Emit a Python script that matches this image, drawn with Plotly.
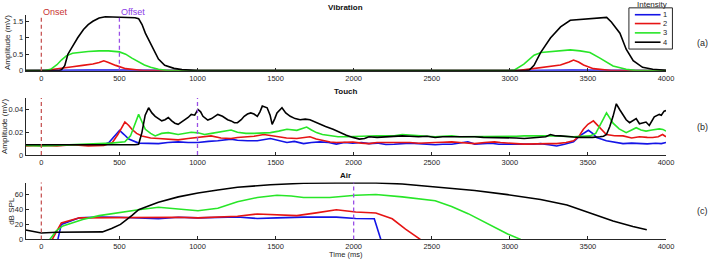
import plotly.graph_objects as go

W, H = 718, 266

# ---------------- data ----------------
intensity_labels = ["1", "2", "3", "4"]
colors = ["#1414e6", "#e61414", "#28e628", "#000000"]
x_ticks = [0, 500, 1000, 1500, 2000, 2500, 3000, 3500, 4000]

onset_ms = 0
offset_ms = [500, 1000, 2000]
panel_titles = ["Vibration", "Touch", "Air"]
panel_tags = ["(a)", "(b)", "(c)"]
y_titles = ["Amplitude (mV)", "Amplitude (mV)", "dB SPL"]

# (a) Vibration
vib_blue_t = [-100, 40, 100, 300, 500, 650, 1000, 3050, 3150, 3400, 3650, 4000]
vib_blue_y = [0, 0.01, 0.015, 0.015, 0.015, 0.01, 0, 0, 0.01, 0.015, 0.01, 0.005]

vib_red_t = [-100, 40, 80, 130, 200, 265, 330, 370, 400, 430, 476, 540, 600, 650, 700,
             3050, 3100, 3197, 3324, 3380, 3408, 3440, 3472, 3535, 3600, 3650, 4000]
vib_red_y = [0, 0, 0.04, 0.08, 0.12, 0.16, 0.2, 0.25, 0.3, 0.25, 0.16, 0.06, 0.02, 0.005, 0,
             0, 0.03, 0.1, 0.17, 0.26, 0.32, 0.26, 0.17, 0.06, 0.015, 0, 0]

vib_green_t = [-100, 20, 60, 100, 130, 160, 200, 250, 300, 370, 430, 500, 540, 580, 620, 660,
               700, 750, 800, 1000,
               3000, 3030, 3090, 3155, 3200, 3280, 3387, 3450, 3513, 3577, 3620, 3661, 3745,
               3800, 4000]
vib_green_y = [0, 0, 0.04, 0.18, 0.33, 0.45, 0.53, 0.56, 0.58, 0.6, 0.6, 0.57, 0.5, 0.38,
               0.27, 0.17, 0.1, 0.04, 0.01, 0,
               0, 0.02, 0.2, 0.47, 0.55, 0.58, 0.63, 0.6, 0.55, 0.38, 0.25, 0.14, 0.04,
               0.01, 0]

vib_black_t = [-100, 110, 130, 150, 170, 200, 233, 270, 300, 330, 370, 410, 450, 500, 550,
               600, 623, 645, 666, 690, 718, 750, 790, 850, 900, 960, 1000,
               3100, 3125, 3155, 3197, 3260, 3325, 3387, 3470, 3555, 3620, 3650, 3705,
               3745, 3790, 3850, 3915, 4000]
vib_black_y = [0, 0, 0.03, 0.15, 0.5, 0.75, 1.0, 1.25, 1.4, 1.5, 1.6, 1.64, 1.63, 1.62,
               1.62, 1.61, 1.58, 1.4, 1.14, 0.9, 0.65, 0.35, 0.16, 0.07, 0.03, 0.01, 0,
               0, 0.02, 0.16, 0.55, 0.99, 1.33, 1.53, 1.56, 1.6, 1.62, 1.48, 1.14,
               0.65, 0.3, 0.1, 0.04, 0.01]

# (b) Touch
tch_blue_t = [-100, 0, 100, 200, 300, 400, 433, 470, 501, 530, 560, 623, 700, 750, 810, 876,
              940, 1003, 1070, 1130, 1215, 1256, 1320, 1383, 1467, 1520, 1573, 1620, 1679,
              1730, 1784, 1840, 1889, 1940, 1995, 2050, 2098, 2150, 2206, 2260, 2311, 2360,
              2415, 2470, 2522, 2570, 2628, 2680, 2731, 2775, 2830, 2881, 2930, 2984, 3040,
              3092, 3150, 3197, 3250, 3300, 3350, 3408, 3450, 3503, 3530, 3556, 3618, 3670,
              3725, 3780, 3830, 3880, 3934, 3970, 4000]
tch_blue_y = [0.009, 0.0085, 0.009, 0.009, 0.0085, 0.009, 0.011, 0.017, 0.0217, 0.018,
              0.014, 0.0105, 0.0105, 0.010, 0.011, 0.0116, 0.011, 0.011, 0.012, 0.0125,
              0.014, 0.013, 0.0125, 0.0125, 0.0145, 0.013, 0.011, 0.012, 0.010, 0.011,
              0.0116, 0.011, 0.0096, 0.011, 0.0104, 0.011, 0.010, 0.0105, 0.0093, 0.0095,
              0.010, 0.0105, 0.010, 0.0095, 0.009, 0.0095, 0.0095, 0.0105, 0.0116, 0.0096,
              0.010, 0.0104, 0.0095, 0.0096, 0.010, 0.0096, 0.0095, 0.010, 0.009, 0.008,
              0.0095, 0.0116, 0.017, 0.0217, 0.019, 0.0154, 0.0125, 0.011, 0.010, 0.0105,
              0.0104, 0.0098, 0.0104, 0.010, 0.011]

tch_red_t = [-100, 0, 100, 200, 300, 400, 455, 490, 535, 560, 580, 610, 644, 700, 750, 810,
             876, 940, 1003, 1050, 1087, 1150, 1215, 1256, 1310, 1362, 1425, 1470, 1509,
             1570, 1636, 1680, 1720, 1760, 1805, 1850, 1889, 1940, 1995, 2050, 2098, 2150,
             2206, 2260, 2311, 2360, 2415, 2470, 2522, 2570, 2628, 2680, 2731, 2775, 2839,
             2902, 2940, 2984, 3040, 3092, 3150, 3197, 3250, 3300, 3360, 3408, 3440, 3471,
             3500, 3535, 3577, 3618, 3670, 3725, 3780, 3830, 3880, 3915, 3950, 3978, 4000]
tch_red_y = [0.008, 0.0085, 0.008, 0.009, 0.008, 0.0085, 0.011, 0.018, 0.029, 0.026, 0.0226,
             0.019, 0.0168, 0.015, 0.0145, 0.014, 0.0133, 0.0145, 0.0154, 0.016, 0.0168,
             0.015, 0.0145, 0.0154, 0.016, 0.0165, 0.018, 0.017, 0.016, 0.015, 0.0145,
             0.015, 0.016, 0.014, 0.0125, 0.0115, 0.011, 0.0115, 0.0114, 0.0105, 0.010,
             0.011, 0.011, 0.0115, 0.0116, 0.011, 0.0104, 0.011, 0.011, 0.0112, 0.0116,
             0.011, 0.0104, 0.010, 0.011, 0.0116, 0.011, 0.0104, 0.010, 0.0096, 0.0098,
             0.0104, 0.010, 0.010, 0.011, 0.0125, 0.016, 0.0226, 0.027, 0.030, 0.024, 0.018,
             0.017, 0.0168, 0.015, 0.016, 0.0155, 0.0154, 0.016, 0.018, 0.016]

tch_green_t = [-100, 0, 100, 200, 300, 370, 450, 535, 571, 600, 623, 645, 666, 700, 729, 770,
               813, 876, 920, 960, 1003, 1045, 1090, 1130, 1180, 1215, 1256, 1310, 1362,
               1420, 1467, 1520, 1573, 1636, 1670, 1699, 1730, 1762, 1800, 1847, 1900, 1953,
               2020, 2098, 2150, 2206, 2260, 2311, 2360, 2415, 2470, 2522, 2570, 2628, 2680,
               2731, 2775, 2830, 2881, 2930, 2984, 3040, 3092, 3150, 3197, 3250, 3300, 3350,
               3408, 3460, 3513, 3550, 3577, 3600, 3619, 3640, 3661, 3700, 3745, 3780, 3809,
               3840, 3872, 3910, 3957, 3980, 4000]
tch_green_y = [0.0085, 0.008, 0.0085, 0.009, 0.009, 0.010, 0.0105, 0.0116, 0.0168, 0.028,
               0.0357, 0.029, 0.0226, 0.019, 0.0168, 0.019, 0.0197, 0.018, 0.019, 0.020,
               0.0195, 0.018, 0.019, 0.020, 0.021, 0.022, 0.020, 0.019, 0.019, 0.0195,
               0.0197, 0.021, 0.0226, 0.0217, 0.023, 0.0246, 0.022, 0.0197, 0.018, 0.0168,
               0.016, 0.016, 0.0165, 0.0168, 0.017, 0.0168, 0.017, 0.018, 0.0175, 0.0168,
               0.016, 0.016, 0.0165, 0.0168, 0.016, 0.016, 0.016, 0.0165, 0.016, 0.0165,
               0.016, 0.0165, 0.0168, 0.0165, 0.0168, 0.017, 0.0168, 0.0165, 0.016, 0.0165,
               0.0168, 0.019, 0.0255, 0.032, 0.037, 0.033, 0.028, 0.023, 0.0197, 0.022,
               0.024, 0.022, 0.021, 0.022, 0.023, 0.0225, 0.021]

tch_black_t = [-100, 0, 100, 200, 300, 400, 500, 600, 623, 644, 665, 687, 708, 729, 750, 771,
               792, 813, 835, 855, 876, 898, 919, 940, 960, 982, 1003, 1020, 1035, 1050,
               1066, 1090, 1110, 1130, 1160, 1193, 1215, 1236, 1256, 1280, 1299, 1320, 1341,
               1362, 1383, 1400, 1415, 1446, 1465, 1478, 1495, 1509, 1541, 1565, 1594, 1625,
               1657, 1690, 1720, 1750, 1784, 1820, 1868, 1910, 1953, 1995, 2037, 2070, 2098,
               2150, 2206, 2260, 2311, 2360, 2415, 2470, 2522, 2570, 2628, 2680, 2731, 2775,
               2830, 2881, 2930, 2984, 3040, 3092, 3150, 3197, 3230, 3260, 3290, 3324, 3370,
               3408, 3450, 3492, 3530, 3577, 3600, 3619, 3640, 3661, 3682, 3703, 3724, 3745,
               3767, 3790, 3809, 3830, 3850, 3872, 3893, 3910, 3925, 3957, 3970, 3988, 4000]
tch_black_y = [0.009, 0.009, 0.0085, 0.009, 0.0088, 0.009, 0.0088, 0.009, 0.0095, 0.0197,
               0.035, 0.0415, 0.037, 0.034, 0.032, 0.030, 0.031, 0.033, 0.030, 0.028, 0.027,
               0.029, 0.0307, 0.033, 0.0357, 0.035, 0.040, 0.038, 0.034, 0.032, 0.0307,
               0.032, 0.034, 0.0357, 0.034, 0.031, 0.030, 0.0284, 0.0284, 0.031, 0.034,
               0.036, 0.037, 0.036, 0.034, 0.038, 0.043, 0.0415, 0.035, 0.027, 0.032, 0.037,
               0.0415, 0.037, 0.034, 0.032, 0.031, 0.0315, 0.031, 0.029, 0.027, 0.025,
               0.0226, 0.020, 0.0174, 0.0155, 0.014, 0.0145, 0.016, 0.0155, 0.016, 0.0165,
               0.0168, 0.0165, 0.016, 0.0165, 0.0154, 0.016, 0.016, 0.0165, 0.016, 0.016,
               0.0155, 0.0154, 0.015, 0.0154, 0.015, 0.0145, 0.015, 0.0154, 0.016, 0.018,
               0.017, 0.0168, 0.016, 0.0158, 0.0155, 0.0154, 0.0155, 0.016, 0.0165, 0.018,
               0.025, 0.034, 0.045, 0.040, 0.0357, 0.031, 0.0284, 0.030, 0.032, 0.0275,
               0.028, 0.029, 0.026, 0.030, 0.0336, 0.0357, 0.035, 0.0386, 0.039]

# (c) Air
air_blue_t = [106, 128, 244, 370, 497, 623, 750, 877, 1003, 1256, 1383, 1509, 1679, 1889,
              2013, 2132, 2174]
air_blue_y = [0, 20, 28.8, 30, 29.5, 28.8, 27.5, 29.5, 28.8, 30, 28, 28.8, 29.7, 29.7,
              28, 27.5, 0]

air_red_t = [70, 128, 244, 370, 497, 623, 750, 877, 1003, 1130, 1256, 1383, 1509, 1636,
             1760, 1889, 2013, 2142, 2247, 2332, 2427]
air_red_y = [0, 22, 28.8, 29, 29, 28.8, 29.7, 29.5, 28.8, 29.5, 31, 34, 33, 31.8, 35.5,
             39.6, 36.6, 35.3, 27.5, 13.8, 0]

air_green_t = [54, 96, 138, 200, 265, 370, 497, 623, 750, 877, 1003, 1130, 1256, 1383, 1509,
               1600, 1679, 1847, 2013, 2142, 2311, 2522, 2627, 2733, 2775, 2881, 2986, 3070]
air_green_y = [0, 11.6, 18, 22.5, 26.7, 31.8, 36, 39.6, 43, 40.4, 38.3, 41.7, 50.3, 56, 59,
               58, 56, 56, 59, 60, 56.8, 51.6, 44, 34.4, 30, 18, 7.3, 0]

air_black_t = [-100, -50, 0, 96, 200, 370, 391, 450, 507, 581, 623, 690, 750, 877, 1003, 1130,
               1256, 1467, 1679, 1889, 2142, 2311, 2522, 2733, 2775, 2986, 3197, 3366, 3514,
               3661, 3788, 3877]
air_black_y = [12.5, 10.5, 8.6, 9.5, 9.5, 9.5, 10, 14.5, 20, 32, 39.6, 45, 49.5, 56.8, 62, 66,
               69.7, 73, 75, 75.5, 75.5, 74, 70.5, 66, 65.4, 59.8, 53.3, 46, 35.3, 24.5, 17.2,
               12.9]

panel_series = [
    [(vib_blue_t, vib_blue_y), (vib_red_t, vib_red_y), (vib_green_t, vib_green_y), (vib_black_t, vib_black_y)],
    [(tch_blue_t, tch_blue_y), (tch_red_t, tch_red_y), (tch_green_t, tch_green_y), (tch_black_t, tch_black_y)],
    [(air_blue_t, air_blue_y), (air_red_t, air_red_y), (air_green_t, air_green_y), (air_black_t, air_black_y)],
]
y_ranges = [[0, 1.7], [0, 0.05], [0, 76]]
y_ticks = [[0, 0.5, 1, 1.5], [0, 0.02, 0.04], [0, 20, 40, 60]]

# ---------------- layout geometry (pixels) ----------------
ax_left, ax_right = 26, 673.5
panel_px = [(15, 72), (100, 158), (186, 244)]  # (top, bottom)


def fx(p):
    return p / W


def fy(p):
    return 1 - p / H


AXC = "#262626"
FONT = "Liberation Sans, Arial, sans-serif"

fig = go.Figure()
layout = dict(
    width=W, height=H, margin=dict(l=0, r=0, t=0, b=0),
    paper_bgcolor="white", plot_bgcolor="white", showlegend=False,
    font=dict(family=FONT, size=8, color=AXC),
)

annotations = []
shapes = []

for i in range(3):
    sfx = "" if i == 0 else str(i + 1)
    top, bot = panel_px[i]
    layout["xaxis" + sfx] = dict(
        domain=[fx(ax_left), fx(ax_right)], anchor="y" + sfx, range=[-100, 4000],
        tickvals=x_ticks, ticks="inside", ticklen=3, tickcolor=AXC, showline=True,
        linecolor=AXC, linewidth=1, showgrid=False, zeroline=False,
        tickfont=dict(size=7.5, color=AXC, family=FONT),
    )
    layout["yaxis" + sfx] = dict(
        domain=[fy(bot), fy(top)], anchor="x" + sfx, range=y_ranges[i],
        tickvals=y_ticks[i], ticks="inside", ticklen=3, tickcolor=AXC, showline=True,
        linecolor=AXC, linewidth=1, showgrid=False, zeroline=False,
        tickfont=dict(size=7.5, color=AXC, family=FONT),
    )
    for k, (t, y) in enumerate(panel_series[i]):
        fig.add_trace(go.Scatter(
            x=t, y=y, mode="lines", name=intensity_labels[k],
            line=dict(color=colors[k], width=1.6),
            xaxis="x" + sfx, yaxis="y" + sfx, showlegend=False, hoverinfo="skip",
        ))
    # onset / offset markers
    shapes.append(dict(type="line", xref="x" + sfx, yref="y" + sfx + " domain",
                       x0=onset_ms, x1=onset_ms, y0=0, y1=1,
                       line=dict(color="#c85a5a", width=1.3, dash="4px,3px")))
    shapes.append(dict(type="line", xref="x" + sfx, yref="y" + sfx + " domain",
                       x0=offset_ms[i], x1=offset_ms[i], y0=0, y1=1,
                       line=dict(color="#9a50e6", width=1.3, dash="4px,3px")))
    # panel title
    annotations.append(dict(text="<b>" + panel_titles[i] + "</b>", xref="paper", yref="paper",
                            x=fx((ax_left + ax_right) / 2), y=fy(top - 7), showarrow=False,
                            xanchor="center", yanchor="middle",
                            font=dict(size=8, color="#111", family=FONT)))
    # panel tag
    annotations.append(dict(text=panel_tags[i], xref="paper", yref="paper",
                            x=fx(710), y=fy((top + bot) / 2), showarrow=False,
                            xanchor="center", yanchor="middle",
                            font=dict(size=9, color=AXC, family=FONT)))

# y titles
ytitle_x = [7.5, 4.5, 12]
for i in range(3):
    top, bot = panel_px[i]
    annotations.append(dict(text=y_titles[i], xref="paper", yref="paper",
                            x=fx(ytitle_x[i]), y=fy((top + bot) / 2), textangle=-90,
                            showarrow=False, xanchor="center", yanchor="middle",
                            font=dict(size=8, color=AXC, family=FONT)))

annotations.append(dict(text="Time (ms)", xref="paper", yref="paper",
                        x=fx((ax_left + ax_right) / 2), y=fy(259), showarrow=False,
                        xanchor="center", yanchor="middle",
                        font=dict(size=7.5, color=AXC, family=FONT)))

# Onset / Offset labels
annotations.append(dict(text="Onset", xref="x", yref="paper", x=onset_ms, y=fy(12),
                        showarrow=False, xanchor="left", yanchor="middle", xshift=0,
                        font=dict(size=9, color="#c83232", family=FONT)))
annotations.append(dict(text="Offset", xref="x", yref="paper", x=offset_ms[0], y=fy(12),
                        showarrow=False, xanchor="left", yanchor="middle", xshift=0,
                        font=dict(size=9, color="#8c3ce6", family=FONT)))

# legend (drawn manually)
leg_l, leg_r, leg_t, leg_b = 636, 680, 8, 50
shapes.append(dict(type="rect", xref="paper", yref="paper",
                   x0=fx(leg_l), x1=fx(leg_r), y0=fy(leg_b), y1=fy(leg_t),
                   line=dict(color=AXC, width=1), fillcolor="white", layer="above"))
leg_rows = [15, 24, 33.5, 43]
for k in range(4):
    shapes.append(dict(type="line", xref="paper", yref="paper",
                       x0=fx(642), x1=fx(668), y0=fy(leg_rows[k]), y1=fy(leg_rows[k]),
                       line=dict(color=colors[k], width=1.6), layer="above"))
    annotations.append(dict(text=intensity_labels[k], xref="paper", yref="paper",
                            x=fx(672), y=fy(leg_rows[k]), showarrow=False,
                            xanchor="center", yanchor="middle",
                            font=dict(size=7.5, color=AXC, family=FONT)))
annotations.append(dict(text="Intensity", xref="paper", yref="paper",
                        x=fx(659), y=fy(4.5), showarrow=False,
                        xanchor="center", yanchor="middle",
                        font=dict(size=8, color=AXC, family=FONT)))

layout["annotations"] = annotations
layout["shapes"] = shapes
fig.update_layout(**layout)
fig.write_html("out.html", config={"displayModeBar": False},
               post_script="document.body.style.margin='0';document.body.style.overflow='hidden';")
